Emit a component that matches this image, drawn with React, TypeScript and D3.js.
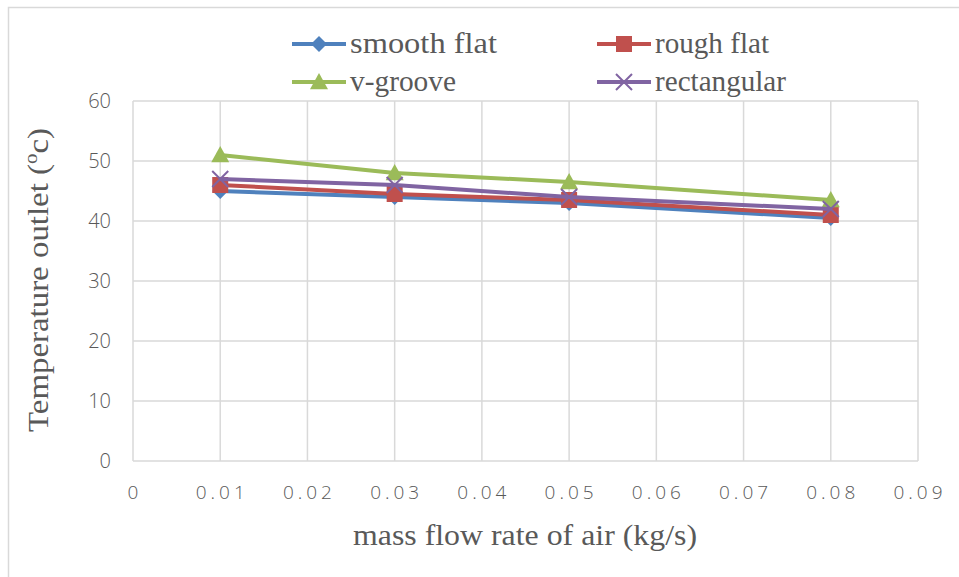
import React from "react";
import * as d3 from "d3";

const xValues = [0.01, 0.03, 0.05, 0.08];
const smoothFlat = [45, 44, 43, 40.5];
const roughFlat = [46, 44.5, 43.5, 41];
const vGroove = [51, 48, 46.5, 43.5];
const rectangular = [47, 46, 44, 42];
const xTicks = [0, 0.01, 0.02, 0.03, 0.04, 0.05, 0.06, 0.07, 0.08, 0.09];
const yTicks = [0, 10, 20, 30, 40, 50, 60];

const W = 959;
const H = 577;
const plot = { left: 133, right: 918, top: 101, bottom: 461 };

const series = [
  { name: "smooth flat", values: smoothFlat, color: "#4F81BD", marker: "diamond", tl: 147 },
  { name: "rough flat", values: roughFlat, color: "#C0504D", marker: "square", tl: 114 },
  { name: "v-groove", values: vGroove, color: "#9BBB59", marker: "triangle", tl: 106 },
  { name: "rectangular", values: rectangular, color: "#8064A2", marker: "x", tl: 131 },
];

function Marker({ type, x, y, color }: { type: string; x: number; y: number; color: string }) {
  if (type === "diamond") {
    const s = 8;
    return <path d={`M${x},${y - s}L${x + s},${y}L${x},${y + s}L${x - s},${y}Z`} fill={color} />;
  }
  if (type === "square") {
    const s = 8;
    return <rect x={x - s} y={y - s} width={2 * s} height={2 * s} fill={color} />;
  }
  if (type === "triangle") {
    const s = 9;
    return <path d={`M${x},${y - s}L${x + s},${y + s * 0.8}L${x - s},${y + s * 0.8}Z`} fill={color} />;
  }
  const s = 8;
  return (
    <path
      d={`M${x - s},${y - s}L${x + s},${y + s}M${x - s},${y + s}L${x + s},${y - s}`}
      stroke={color}
      strokeWidth={2}
      fill="none"
    />
  );
}

export default function App() {
  const x = d3.scaleLinear().domain([0, 0.09]).range([plot.left, plot.right]);
  const y = d3.scaleLinear().domain([0, 60]).range([plot.bottom, plot.top]);
  const line = d3
    .line<number>()
    .x((_, i) => x(xValues[i]))
    .y((d) => y(d));

  const tickFont = "'Open Sans', 'Liberation Sans', sans-serif";
  const serif = "'Liberation Serif', 'Times New Roman', serif";
  const gray = "#595959";
  const gridColor = "#d9d9d9";

  const legendItems = [
    { s: series[0], lx: 292, ly: 44 },
    { s: series[1], lx: 597, ly: 44 },
    { s: series[2], lx: 292, ly: 82 },
    { s: series[3], lx: 597, ly: 82 },
  ];

  return (
    <svg
      width={W}
      height={H}
      style={{ position: "absolute", left: 0, top: 0, display: "block", background: "#fff" }}
    >
      <rect x={0} y={0} width={W} height={H} fill="#fff" />
      <rect x={8.5} y={7.5} width={W + 20} height={H + 20} fill="none" stroke={gridColor} strokeWidth={1.5} />

      {/* grid */}
      {xTicks.map((t) => (
        <line key={"gx" + t} x1={x(t)} x2={x(t)} y1={plot.top} y2={plot.bottom} stroke={gridColor} strokeWidth={1.5} />
      ))}
      {yTicks.map((t) => (
        <line key={"gy" + t} x1={plot.left} x2={plot.right} y1={y(t)} y2={y(t)} stroke={gridColor} strokeWidth={1.5} />
      ))}

      {/* tick labels */}
      {yTicks.map((t) => (
        <text key={"ty" + t} x={111} y={y(t)} dy="0.36em" textAnchor="end" fontFamily={tickFont} fontWeight={300} fontSize={20} fill={gray}>
          {t}
        </text>
      ))}
      {xTicks.map((t) => (
        <text
          key={"tx" + t}
          x={x(t) + 2}
          y={499}
          textAnchor="middle"
          fontFamily={tickFont}
          fontWeight={300}
          fontSize={19}
          letterSpacing={4}
          fill={gray}
        >
          {t === 0 ? "0" : d3.format(".2f")(t)}
        </text>
      ))}

      {/* axis titles */}
      <text
        x={525}
        y={545}
        textAnchor="middle"
        fontFamily={serif}
        fontSize={29}
        fill={gray}
        textLength={344}
        lengthAdjust="spacingAndGlyphs"
      >
        mass flow rate of air (kg/s)
      </text>
      <text
        transform={`translate(48,${(plot.top + plot.bottom) / 2 - 1}) rotate(-90)`}
        textAnchor="middle"
        fontFamily={serif}
        fontSize={30}
        fill={gray}
        textLength={304}
        lengthAdjust="spacingAndGlyphs"
      >
        Temperature outlet (<tspan fontSize={19} dy={-11}>o</tspan>
        <tspan dy={11}>c)</tspan>
      </text>

      {/* series */}
      {series.map((s) => (
        <g key={s.name}>
          <path d={line(s.values) || ""} fill="none" stroke={s.color} strokeWidth={4} strokeLinejoin="round" />
          {s.values.map((v, i) => (
            <Marker key={i} type={s.marker} x={x(xValues[i])} y={y(v)} color={s.color} />
          ))}
        </g>
      ))}

      {/* legend */}
      {legendItems.map(({ s, lx, ly }) => (
        <g key={"lg" + s.name}>
          <line x1={lx} x2={lx + 54} y1={ly} y2={ly} stroke={s.color} strokeWidth={4} />
          <Marker type={s.marker} x={lx + 27} y={ly} color={s.color} />
          <text
            x={lx + 58}
            y={ly + 9}
            fontFamily={serif}
            fontSize={29}
            fill={gray}
            textLength={s.tl}
            lengthAdjust="spacingAndGlyphs"
          >
            {s.name}
          </text>
        </g>
      ))}
    </svg>
  );
}
